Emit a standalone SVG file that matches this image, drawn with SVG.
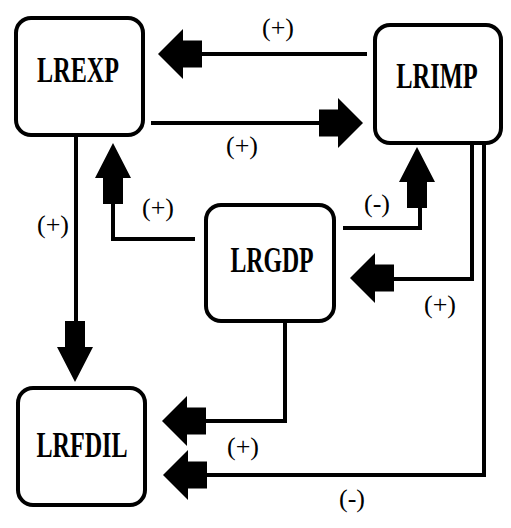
<svg xmlns="http://www.w3.org/2000/svg" width="511" height="528" viewBox="0 0 511 528">
<style>
.box{fill:#fff;stroke:#000;stroke-width:4}
.nt{font-family:"Liberation Serif","Times New Roman",serif;font-weight:bold;font-size:35px;text-anchor:middle;fill:#000}
.lb{font-family:"Liberation Serif","Times New Roman",serif;font-size:26px;text-anchor:middle;fill:#000}
.ln{fill:none;stroke:#000;stroke-width:4}
.ah{fill:#000}
</style>
<defs>
<path id="ahR" d="M0,0 L-25,-25 L-25,-13.5 L-44,-13.5 L-44,13.5 L-25,13.5 L-25,25 Z"/>
<path id="ahD" d="M0,0 L-18,-35 L-10,-35 L-10,-61 L10,-61 L10,-35 L18,-35 Z"/>
</defs>
<rect width="511" height="528" fill="#fff"/>
<g id="connectors">
<line class="ln" x1="200" y1="54" x2="367" y2="54"/>
<use href="#ahR" class="ah" transform="translate(158,54) scale(-1,1)"/>
<line class="ln" x1="151" y1="123" x2="322" y2="123"/>
<use href="#ahR" class="ah" transform="translate(363,123)"/>
<line class="ln" x1="76" y1="137" x2="76" y2="322"/>
<use href="#ahD" class="ah" transform="translate(75,382)"/>
<polyline class="ln" points="195,239 113,239 113,201"/>
<use href="#ahD" class="ah" transform="translate(113,143) scale(1,-1)"/>
<polyline class="ln" points="343,228 420,228 420,206"/>
<use href="#ahD" class="ah" transform="translate(417,147) scale(1,-1)"/>
<polyline class="ln" points="472,143 472,279 392,279"/>
<use href="#ahR" class="ah" transform="translate(350,278) scale(-1,1)"/>
<polyline class="ln" points="484,143 484,475 205,475"/>
<use href="#ahR" class="ah" transform="translate(163,475) scale(-1,1)"/>
<polyline class="ln" points="285,321 285,421 204,421"/>
<use href="#ahR" class="ah" transform="translate(162,421) scale(-1,1)"/>
<text class="lb" x="278" y="36">(+)</text>
<text class="lb" x="242" y="154">(+)</text>
<text class="lb" x="53" y="233">(+)</text>
<text class="lb" x="158" y="216">(+)</text>
<text class="lb" x="377" y="212">(-)</text>
<text class="lb" x="440" y="313">(+)</text>
<text class="lb" x="243" y="455">(+)</text>
<text class="lb" x="352" y="507">(-)</text>
</g>
<g id="LREXP">
<rect class="box" x="16" y="18" width="127" height="117" rx="15"/>
<text class="nt" transform="translate(78,82) scale(0.69,1)">LREXP</text>
</g>
<g id="LRIMP">
<rect class="box" x="375" y="25" width="126" height="118" rx="15"/>
<text class="nt" transform="translate(437,88) scale(0.7,1)">LRIMP</text>
</g>
<g id="LRGDP">
<rect class="box" x="206" y="205" width="128" height="116" rx="15"/>
<text class="nt" transform="translate(272,272) scale(0.68,1)">LRGDP</text>
</g>
<g id="LRFDIL">
<rect class="box" x="18" y="388" width="127" height="117" rx="15"/>
<text class="nt" transform="translate(82,457) scale(0.69,1)">LRFDIL</text>
</g>
</svg>
